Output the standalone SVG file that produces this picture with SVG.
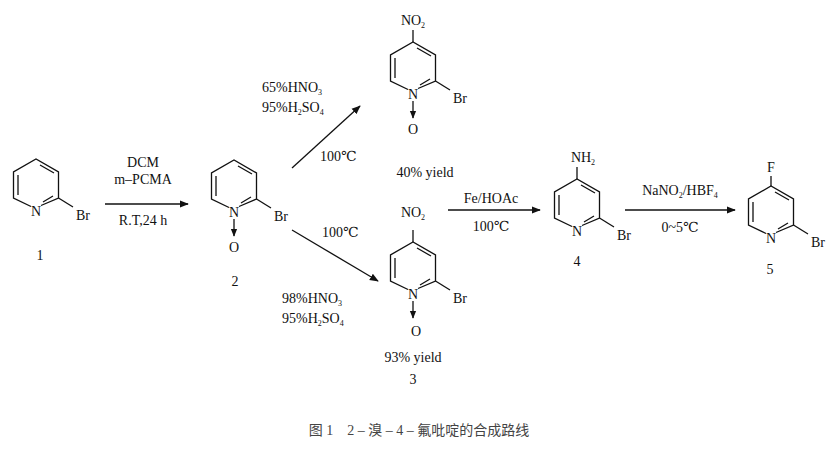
<svg xmlns="http://www.w3.org/2000/svg" width="838" height="451" viewBox="0 0 838 451">
<style>
text{font-family:"Liberation Serif","DejaVu Serif",serif;font-size:14px;fill:#111}
.m{text-anchor:middle}
.b{stroke:#111;stroke-width:1.3;fill:none}
.a{stroke:#111;stroke-width:1.3;fill:none;marker-end:url(#ah)}
.cap{font-family:"Liberation Serif","Noto Sans CJK SC",serif;font-size:14px;fill:#444}
</style>
<defs>
<marker id="ah" viewBox="0 0 10 10" refX="9" refY="5" markerWidth="9" markerHeight="9" markerUnits="userSpaceOnUse" orient="auto"><path d="M0,1 L10,5 L0,9 z" fill="#111"/></marker>
<marker id="oh" viewBox="0 0 10 10" refX="9" refY="5" markerWidth="8" markerHeight="8" markerUnits="userSpaceOnUse" orient="auto"><path d="M0,1 L10,5 L0,9 z" fill="#111"/></marker>
<g id="ring">
<path class="b" d="M5,20.5 L22.5,13 L22.5,-13 L0,-26 L-22.5,-13 L-22.5,13 L-5,21.5"/>
<path class="b" d="M4,-20 L18,-12 M-18,-10 L-18,10 M7,17 L17,11"/>
<path class="b" d="M22.5,13 L37,22"/>
<text x="0" y="31" class="m">N</text>
<text x="47" y="35" class="m">Br</text>
</g>
</defs>
<g id="mol1"><use href="#ring" x="36" y="185"/><text x="40" y="260" class="m">1</text></g>
<g id="mol2"><use href="#ring" x="234" y="186"/><path class="b" d="M234,219 L234,236" marker-end="url(#oh)"/><text x="234" y="252" class="m">O</text><text x="235" y="286" class="m">2</text></g>
<g id="mol3a"><use href="#ring" x="413" y="68"/><path class="b" d="M413,42 L413,30"/><text x="413" y="25" class="m">NO<tspan font-size="8" dy="3">2</tspan></text><path class="b" d="M413,101 L413,118" marker-end="url(#oh)"/><text x="413" y="134" class="m">O</text><text x="425" y="177" class="m">40% yield</text></g>
<g id="mol3b"><use href="#ring" x="413" y="268"/><path class="b" d="M413,242 L413,230"/><text x="413" y="217" class="m">NO<tspan font-size="8" dy="3">2</tspan></text><path class="b" d="M413,301 L413,318" marker-end="url(#oh)"/><text x="416" y="336" class="m">O</text><text x="413" y="362" class="m">93% yield</text><text x="413" y="384" class="m">3</text></g>
<g id="mol4"><use href="#ring" x="577" y="205"/><path class="b" d="M577,179 L577,167"/><text x="583" y="162" class="m">NH<tspan font-size="8" dy="3">2</tspan></text><text x="577" y="266" class="m">4</text></g>
<g id="mol5"><use href="#ring" x="771" y="212"/><path class="b" d="M771,186 L771,176"/><text x="771" y="172" class="m">F</text><text x="770" y="274" class="m">5</text></g>
<g id="connectors">
<path class="a" d="M105,204 L188,204"/>
<path class="a" d="M292,168 L360,106"/>
<path class="a" d="M292,230 L378,281"/>
<path class="a" d="M448,210 L540,210"/>
<path class="a" d="M625,210 L735,210"/>
</g>
<g id="labels">
<text x="143" y="167" class="m">DCM</text>
<text x="143" y="184" class="m">m–PCMA</text>
<text x="143" y="225" class="m">R.T,24 h</text>
<text x="262" y="92">65%HNO<tspan font-size="8" dy="3">3</tspan></text>
<text x="262" y="112">95%H<tspan font-size="8" dy="3">2</tspan><tspan dy="-3">SO</tspan><tspan font-size="8" dy="3">4</tspan></text>
<text x="320" y="161">100℃</text>
<text x="322" y="237">100℃</text>
<text x="282" y="303">98%HNO<tspan font-size="8" dy="3">3</tspan></text>
<text x="282" y="323">95%H<tspan font-size="8" dy="3">2</tspan><tspan dy="-3">SO</tspan><tspan font-size="8" dy="3">4</tspan></text>
<text x="491" y="203" class="m">Fe/HOAc</text>
<text x="491" y="231" class="m">100℃</text>
<text x="680" y="195" class="m">NaNO<tspan font-size="8" dy="3">2</tspan><tspan dy="-3">/HBF</tspan><tspan font-size="8" dy="3">4</tspan></text>
<text x="680" y="232" class="m">0~5℃</text>
<text x="419" y="435" class="m cap">图 1　2 – 溴 – 4 – 氟吡啶的合成路线</text>
</g>
</svg>
